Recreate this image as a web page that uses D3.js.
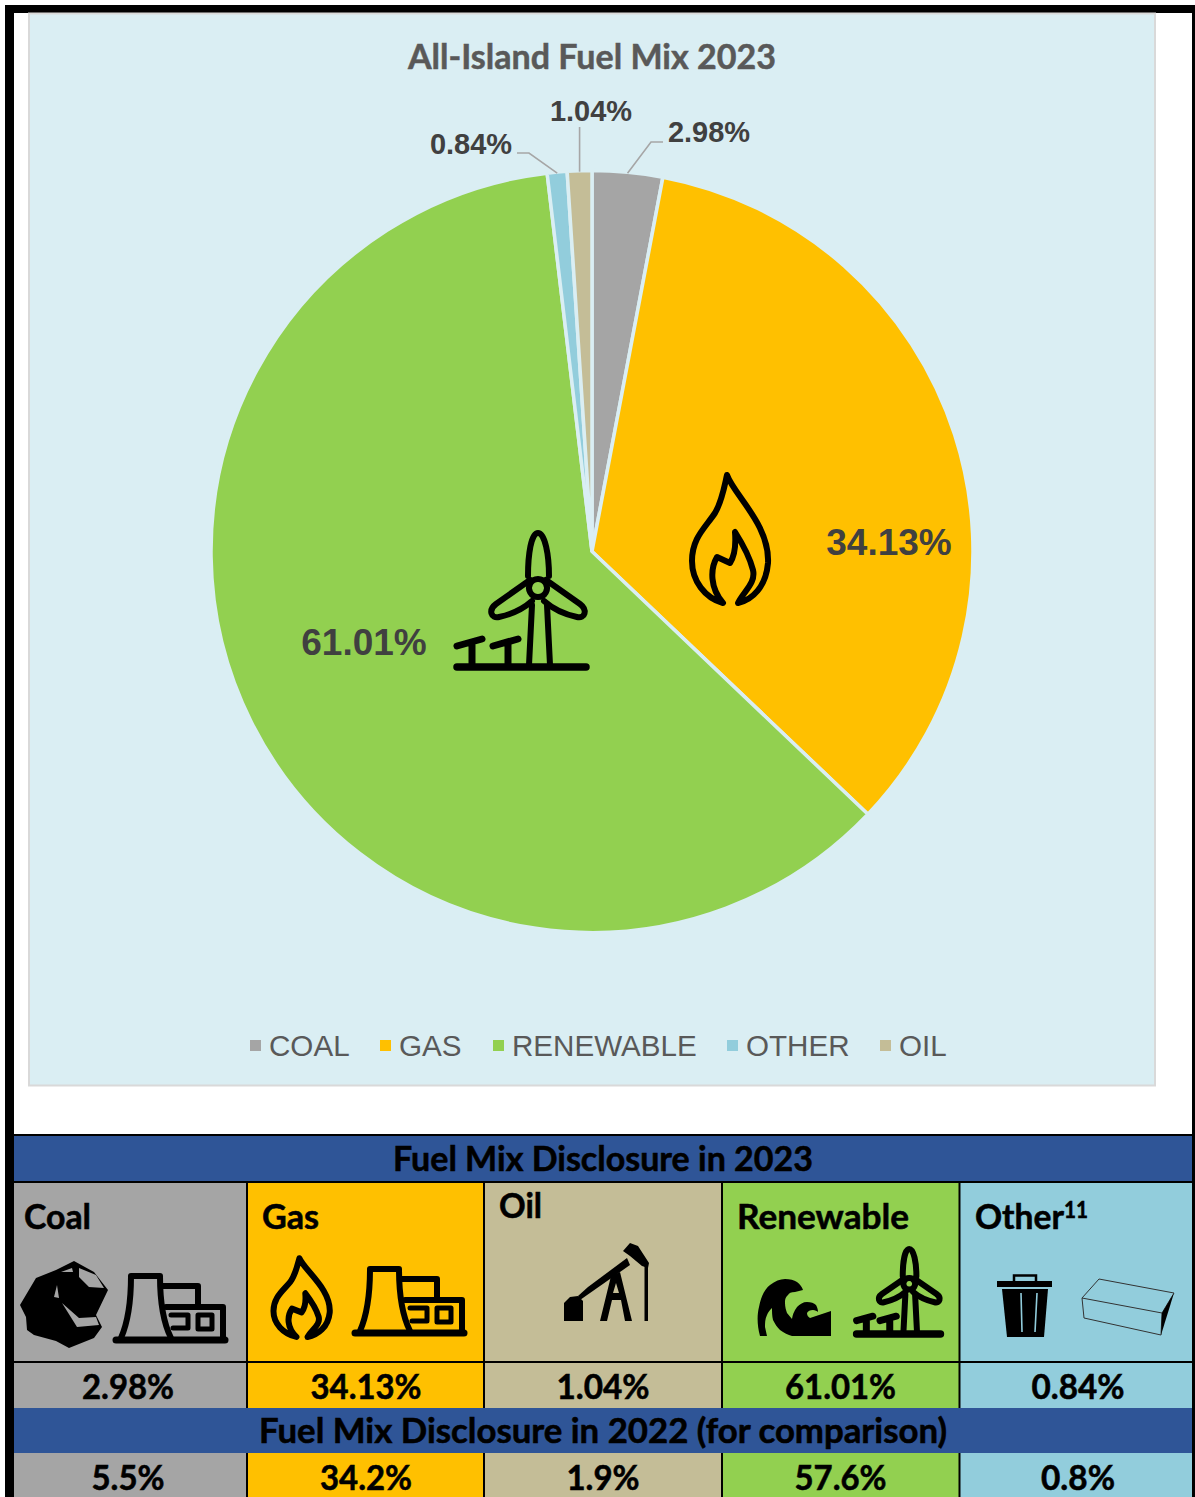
<!DOCTYPE html>
<html>
<head>
<meta charset="utf-8">
<script src="https://cdn.jsdelivr.net/npm/d3@7"></script>
<style>
html,body{margin:0;padding:0;background:#fff;overflow:hidden}
svg{display:block}
</style>
</head>
<body>
<div id="chart"></div>
<script>
// Fuel mix figures, in pie order
const categories = ["COAL", "GAS", "RENEWABLE", "OTHER", "OIL"];
const shares2023 = [2.98, 34.13, 61.01, 0.84, 1.04];
const colours = ["#A5A5A5", "#FFC000", "#92D050", "#92CDDC", "#C4BD97"];

// Disclosure table, in column order
const tableHeads = ["Coal", "Gas", "Oil", "Renewable", "Other"];
const table2023 = ["2.98%", "34.13%", "1.04%", "61.01%", "0.84%"];
const table2022 = ["5.5%", "34.2%", "1.9%", "57.6%", "0.8%"];
const tableColours = ["#A5A5A5", "#FFC000", "#C4BD97", "#92D050", "#92CDDC"];

const W = 1195, H = 1497;
const SANS = "'Liberation Sans', Arial, sans-serif";
const CAL = "Lato, 'Noto Sans', sans-serif";

const svg = d3.select("#chart").append("svg").attr("width", W).attr("height", H);

// Reusable pictograms, all stroked black unless filled below
const defs = svg.append("defs");
const sym = (id, build) => build(defs.append("g").attr("id", id));
const line = (g, d, sw) => g.append("path").attr("d", d).attr("fill", "none").attr("stroke", "#000")
  .attr("stroke-width", sw).attr("stroke-linecap", "round").attr("stroke-linejoin", "round")
  .attr("vector-effect", "non-scaling-stroke");

sym("flame", g => {
  line(g, "M37,2 C44,22 80,52 78,90 C76,114 62,127 48,130 C54,118 66,110 63,97 C60,85 52,70 45,59 C46,72 44,84 40,90 L27,84 C20,96 20,115 33,130 C15,125 2,108 2,88 C2,65 15,55 25,40 C32,28 34,15 37,2 Z", 6);
});
sym("turbine", g => {
  line(g, "M4,137 H133", 7.5);
  line(g, "M76,135 L79,75 M97,135 L94,75", 6);
  line(g, "M75,46 C75,25 78,3 85,3 C92,3 96,25 96,46", 6);
  line(g, "M77,50 L43,74 C35,80 38,89 46,87 C60,84 70,79 79,71", 6);
  line(g, "M93,50 L127,74 C135,80 132,89 124,87 C110,84 100,79 91,71", 6);
  line(g, "M85,49 a9,9 0 1,0 0.01,0 Z", 6);
  line(g, "M4,116 L29,109 M19,112 V135 M40,116 L65,109 M55,112 V135", 7);
});
sym("plant", g => {
  line(g, "M3,68 H112", 7);
  line(g, "M18,4 H47 M18,4 C18,30 15,50 8,66 M47,4 C47,30 50,50 58,66", 6);
  line(g, "M49,14 H85 V33 M53,35 H110 V66", 6);
  line(g, "M58,43 H75 V56 H60 M85,43 H99 V57 H85 Z", 5);
});

// Page frame
const ink = svg.append("g");
[[5, 5, 1190, 8], [5, 5, 9, 1492], [1192, 5, 3, 1492]].forEach(([x, y, w, h]) =>
  ink.append("rect").attr("x", x).attr("y", y).attr("width", w).attr("height", h).attr("fill", "#000"));

// Chart panel
svg.append("rect").attr("x", 29).attr("y", 13.5).attr("width", 1126).attr("height", 1072)
  .attr("fill", "#DAEEF3").attr("stroke", "#D9D9D9").attr("stroke-width", 2);

svg.append("text").attr("x", 592).attr("y", 69).attr("text-anchor", "middle")
  .attr("font-family", CAL).attr("font-weight", 700).attr("font-size", 34).attr("fill", "#595959")
  .attr("stroke", "#595959").attr("stroke-width", 0.5)
  .attr("textLength", 368).attr("lengthAdjust", "spacingAndGlyphs")
  .text("All-Island Fuel Mix 2023");

// Pie
const cx = 592, cy = 551.5, R = 381;
const pieGen = d3.pie().sort(null).value(d => d)(shares2023);
const arc = d3.arc().innerRadius(0).outerRadius(R);
const pieG = svg.append("g").attr("transform", `translate(${cx},${cy})`);
pieG.selectAll("path").data(pieGen).join("path")
  .attr("d", arc).attr("fill", (d, i) => colours[i])
  .attr("stroke", "#DAEEF3").attr("stroke-width", 3.5).attr("stroke-linejoin", "miter");

// Data labels placed around the pie, with leaders for the thin slices
const labelSpots = {
  GAS: {x: 889, y: 555, size: 37},
  RENEWABLE: {x: 364, y: 655, size: 37},
  COAL: {x: 709, y: 142, size: 29, elbow: [651, 142], from: 663},
  OTHER: {x: 471, y: 154, size: 29, elbow: [529, 153], from: 517},
  OIL: {x: 591, y: 121, size: 29, elbow: null, topY: 127}
};
const rim = d3.arc().innerRadius(R - 1).outerRadius(R - 1);
categories.forEach((c, i) => {
  const s = labelSpots[c];
  const [ex, ey] = rim.centroid(pieGen[i]);
  if (s.elbow) {
    const pts = [[s.from, s.elbow[1]], s.elbow, [cx + ex, cy + ey]];
    svg.append("path").attr("d", d3.line()(pts)).attr("fill", "none").attr("stroke", "#A6A6A6").attr("stroke-width", 1.6);
  } else if (s.topY) {
    svg.append("path").attr("d", d3.line()([[cx + ex, s.topY], [cx + ex, cy + ey]])).attr("fill", "none").attr("stroke", "#A6A6A6").attr("stroke-width", 1.6);
  }
  svg.append("text").attr("x", s.x).attr("y", s.y).attr("text-anchor", "middle")
    .attr("font-family", SANS).attr("font-weight", 700).attr("font-size", s.size).attr("fill", "#404040")
    .text(shares2023[i].toFixed(2) + "%");
});

// Icons on the large slices
const place = (id, x, y, sx, sy) => svg.append("use").attr("href", "#" + id)
  .attr("transform", `translate(${x},${y}) scale(${sx},${sy})`);
place("flame", 690, 473, 1, 1);
place("turbine", 453, 530, 1, 1);

// Legend
const legendX = [250, 380, 493, 727, 880];
const legendG = svg.append("g");
categories.forEach((c, i) => {
  legendG.append("rect").attr("x", legendX[i]).attr("y", 1040).attr("width", 11).attr("height", 11).attr("fill", colours[i]);
  legendG.append("text").attr("x", legendX[i] + 19).attr("y", 1056)
    .attr("font-family", SANS).attr("font-size", 29.6).attr("fill", "#595959").text(c);
});

// Disclosure table
const colEdges = [14, 247, 484, 722, 959.5, 1192];
const rowY = {head1: [1136, 1182], icons: [1182, 1362], v1: [1362, 1408], head2: [1408, 1453], v2: [1453, 1497]};
const tbl = svg.append("g");
const band = (y0, y1, fill) => tbl.append("rect").attr("x", 14).attr("y", y0).attr("width", 1178).attr("height", y1 - y0).attr("fill", fill);
tbl.append("rect").attr("x", 14).attr("y", 1134).attr("width", 1178).attr("height", 2).attr("fill", "#000");
band(rowY.head1[0], rowY.head1[1], "#2F5597");
band(rowY.head2[0], rowY.head2[1], "#2F5597");
tableHeads.forEach((h, i) => {
  const x0 = colEdges[i], x1 = colEdges[i + 1];
  [rowY.icons, rowY.v1, rowY.v2].forEach(r =>
    tbl.append("rect").attr("x", x0).attr("y", r[0]).attr("width", x1 - x0).attr("height", r[1] - r[0]).attr("fill", tableColours[i]));
});
// Cell rules
[rowY.icons[0], rowY.icons[1]].forEach(y =>
  tbl.append("rect").attr("x", 14).attr("y", y - 1).attr("width", 1178).attr("height", 2).attr("fill", "#000"));
colEdges.slice(1, 5).forEach(x => {
  [[rowY.icons[0], rowY.v1[1]], [rowY.v2[0], rowY.v2[1]]].forEach(([a, b]) =>
    tbl.append("rect").attr("x", x - 1).attr("y", a).attr("width", 2).attr("height", b - a).attr("fill", "#000"));
});

const tText = (str, x, y, anchor, len, size) => {
  const t = tbl.append("text").attr("x", x).attr("y", y).attr("text-anchor", anchor)
    .attr("font-family", CAL).attr("font-weight", 700).attr("font-size", size || 34).attr("fill", "#000")
    .attr("stroke", "#000").attr("stroke-width", 0.55)
    .text(str);
  if (len) t.attr("textLength", len).attr("lengthAdjust", "spacingAndGlyphs");
  return t;
};
tText("Fuel Mix Disclosure in 2023", 603, 1171, "middle", 420);
tText("Fuel Mix Disclosure in 2022 (for comparison)", 603, 1443, "middle", 688);

const headX = [24, 262, 499, 737, 975];
const headY = [1229, 1229, 1218, 1229, 1229];
const headLen = [67, 57, 43, 172, 89];
tableHeads.forEach((h, i) => tText(h, headX[i], headY[i], "start", headLen[i]));
tText("11", 1064, 1218, "start", 24, 22);

const valueX = [128, 366, 603, 840.5, 1078];
const v1Len = [92, 111, 93, 111, 93];
const v2Len = [73, 92, 73, 92, 74];
table2023.forEach((v, i) => tText(v, valueX[i], 1398.5, "middle", v1Len[i]));
table2022.forEach((v, i) => tText(v, valueX[i], 1489.5, "middle", v2Len[i]));

// Table pictograms
const ic = svg.append("g");
// lump of coal
ic.append("path").attr("fill", "#000")
  .attr("d", "M74,1261 L94,1272 L108,1290 L96,1315 L102,1327 L94,1338 L69,1348 L56,1341 L34,1335 L27,1330 L26,1317 L20,1305 L36,1278 L56,1270 Z");
ic.append("path").attr("fill", "#A5A5A5")
  .attr("d", "M79,1268 L96,1275 L104,1288 L89,1287 L79,1277 Z M61,1272 L72,1268 L73,1272 Z M57,1285 L59,1298 L54,1297 Z M62,1303 L79,1318 L96,1317 L99,1325 L77,1327 Z");
place("plant", 113, 1272, 1, 1);
place("flame", 272, 1257, 0.74, 0.615);
place("plant", 352, 1265, 1, 1);

// oil pump
ic.append("path").attr("fill", "#000").attr("d", "M564,1303 L570,1297 L578,1296 L583,1301 V1321 H564 Z");
ic.append("path").attr("fill", "#000").attr("d", "M578,1296 L588,1287 L627,1258 L630,1265 L590,1293 L580,1300 Z");
ic.append("path").attr("fill", "#000").attr("d", "M623,1251 L630,1243 L638,1246 L649,1263 L648,1268 L642,1266 L630,1256 Z");
ic.append("rect").attr("x", 644.5).attr("y", 1266).attr("width", 3.5).attr("height", 55).attr("fill", "#000");
ic.append("path").attr("fill", "#000").attr("fill-rule", "evenodd")
  .attr("d", "M611,1276 L620,1272 L632,1321 L625,1321 L621,1300 L612,1300 L607,1321 L600,1321 Z M616,1283 L613,1293 L619,1293 Z");

// breaking wave
ic.append("path").attr("fill", "#000")
  .attr("d", "M760,1336 C757,1325 757,1315 759,1307 C761,1296 765,1289 770,1285 C775,1281 780,1279 785,1279 C790,1279 794,1280 797,1282 C800,1284 802,1287 803,1290 L795,1292 C791,1292 789,1293 788,1295 C785,1298 785,1300 785,1303 C785,1307 786,1310 787,1313 L792,1319 C793,1313 795,1310 797,1307 C800,1304 803,1302 807,1302 C811,1302 814,1303 816,1305 C817,1307 818,1309 818,1312 C817,1311 815,1310 813,1310 C810,1310 808,1311 807,1313 C807,1315 808,1317 810,1318 L831,1311 V1336 H792 C788,1335 784,1333 780,1330 C777,1327 775,1324 773,1320 C772,1316 772,1312 772,1308 C770,1310 768,1312 767,1315 C765,1319 765,1323 765,1327 L767,1336 Z");
place("turbine", 854, 1247, 0.65, 0.635);

// waste bin
ic.append("rect").attr("x", 997).attr("y", 1281).attr("width", 55).attr("height", 6).attr("fill", "#000");
ic.append("path").attr("d", "M1014,1281 V1275.5 H1036 V1281").attr("fill", "none").attr("stroke", "#000").attr("stroke-width", 2.5);
ic.append("path").attr("fill", "#000").attr("d", "M1002,1289 H1048 L1044,1337 H1007 Z");
ic.append("path").attr("fill", "none").attr("stroke", "#92CDDC").attr("stroke-width", 1.6)
  .attr("d", "M1021,1293 L1022,1332 M1037,1293 L1035,1332");

// rectangular block
ic.append("path").attr("fill", "none").attr("stroke", "#333").attr("stroke-width", 1)
  .attr("d", "M1099,1279 L1174,1293 L1162,1313 L1082,1298 Z M1082,1298 L1084,1318 L1161,1335 L1162,1313");
ic.append("path").attr("fill", "#000").attr("d", "M1174,1293 L1162,1313 L1161,1335 Z");
</script>
</body>
</html>
